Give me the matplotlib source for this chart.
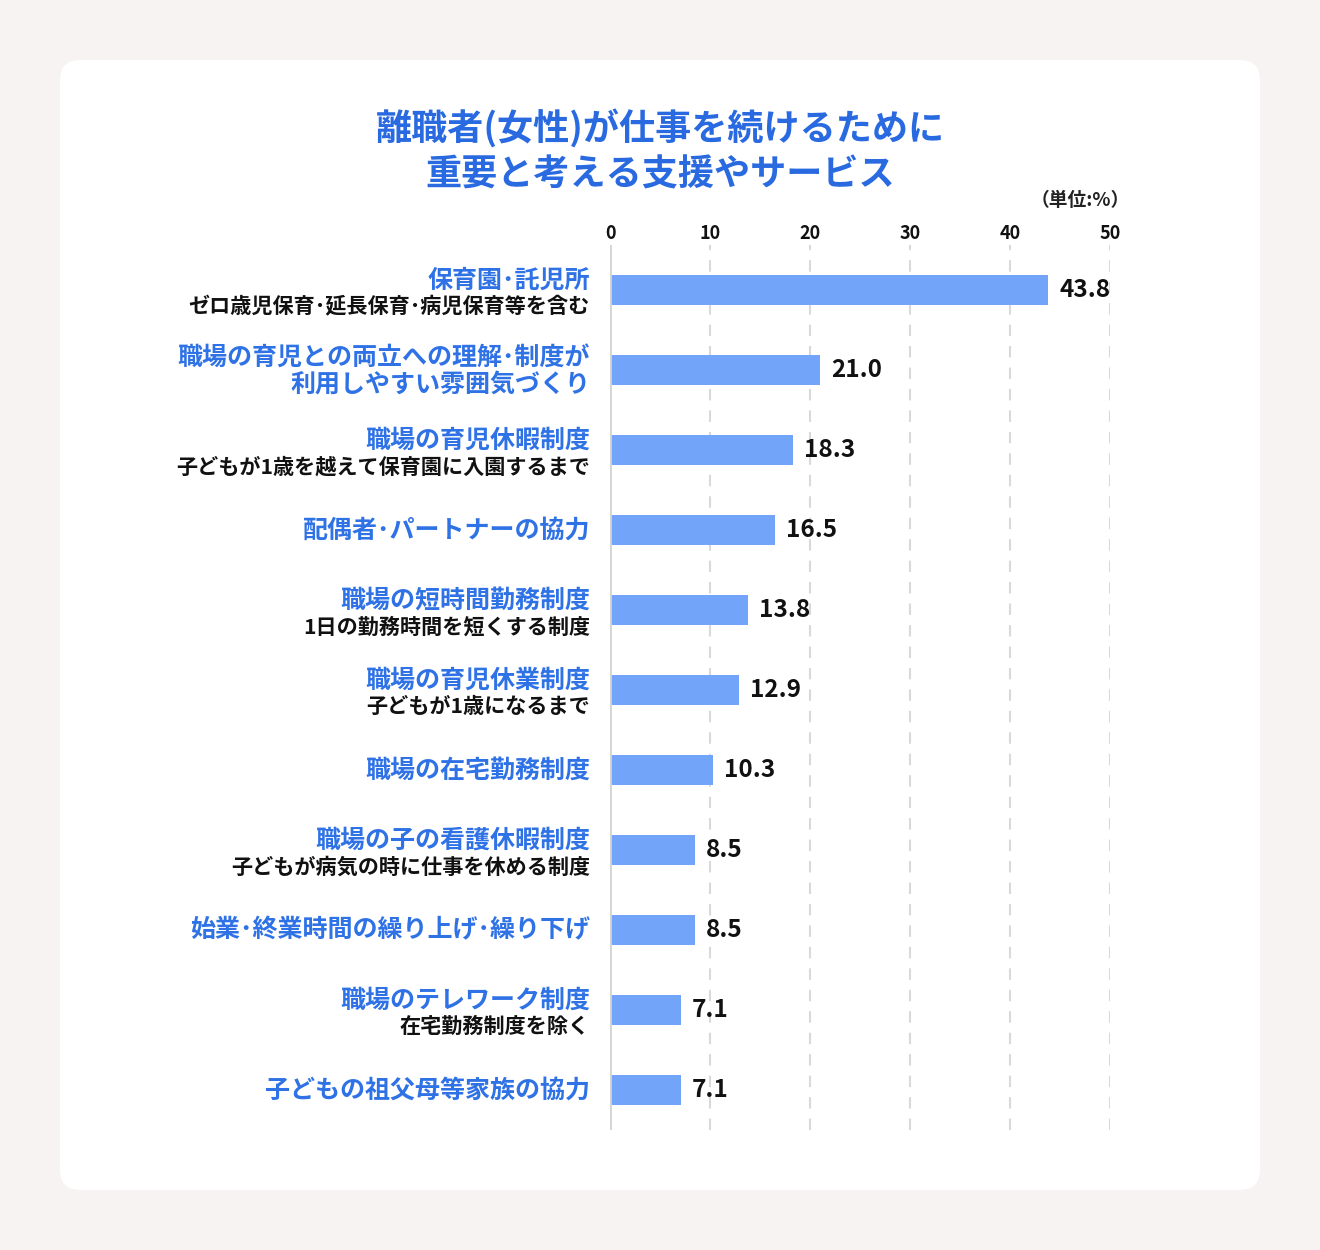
import matplotlib
matplotlib.use("Agg")
import matplotlib.pyplot as plt
from matplotlib.patches import FancyBboxPatch

plt.rcParams["font.family"] = ["Noto Sans CJK JP", "DejaVu Sans"]

# --- data -------------------------------------------------------------
titles = [
    "保育園･託児所",
    "職場の育児との両立への理解･制度が\n利用しやすい雰囲気づくり",
    "職場の育児休暇制度",
    "配偶者･パートナーの協力",
    "職場の短時間勤務制度",
    "職場の育児休業制度",
    "職場の在宅勤務制度",
    "職場の子の看護休暇制度",
    "始業･終業時間の繰り上げ･繰り下げ",
    "職場のテレワーク制度",
    "子どもの祖父母等家族の協力",
]
notes = [
    "ゼロ歳児保育･延長保育･病児保育等を含む",
    "",
    "子どもが1歳を越えて保育園に入園するまで",
    "",
    "1日の勤務時間を短くする制度",
    "子どもが1歳になるまで",
    "",
    "子どもが病気の時に仕事を休める制度",
    "",
    "在宅勤務制度を除く",
    "",
]
values = [43.8, 21.0, 18.3, 16.5, 13.8, 12.9, 10.3, 8.5, 8.5, 7.1, 7.1]
ticks = [0, 10, 20, 30, 40, 50]

BLUE_TITLE = "#2a6ae0"
BLUE_LABEL = "#2f72e6"
BAR = "#72a4fa"

W, H = 1320, 1250
fig = plt.figure(figsize=(W / 100, H / 100), dpi=100)
fig.patch.set_facecolor("#f7f3f3")

# white rounded card
card = FancyBboxPatch((60 / W, 60 / H), 1200 / W, 1130 / H,
                      boxstyle="round,pad=0,rounding_size=0.016",
                      transform=fig.transFigure, facecolor="white",
                      edgecolor="none", zorder=-5)
fig.patches.append(card)

fig.text(660 / W, 1 - 129 / H, "離職者(女性)が仕事を続けるために",
         ha="center", va="center", fontsize=26, fontweight="bold",
         color=BLUE_TITLE)
fig.text(660 / W, 1 - 175 / H, "重要と考える支援やサービス",
         ha="center", va="center", fontsize=26, fontweight="bold",
         color=BLUE_TITLE)
fig.text(1130 / W, 1 - 200 / H, "（単位:%）", ha="right", va="center",
         fontsize=13.5, fontweight="bold", color="#222222")

ax = fig.add_axes([610 / W, 120 / H, 500 / W, 885 / H], zorder=2)
ax.set_facecolor("none")
n = len(values)
ypos = list(range(n))
ax.set_xlim(0, 50)
ax.set_ylim(n - 0.5, -0.5625)

for t in ticks[1:]:
    ax.axvline(t, color="#d9d9d9", lw=1.5, dashes=(5.5, 4.8), zorder=0)
ax.axvline(0, color="#d4d4d4", lw=2, zorder=3)

ax.barh(ypos, values, height=0.375, color=BAR, zorder=2)

for y, v in zip(ypos, values):
    ax.text(v + 1.1, y, f"{v:.1f}", ha="left", va="center", fontsize=17.5,
            fontweight="bold", color="#111111", zorder=4)

for y, t, note in zip(ypos, titles, notes):
    if note:
        ax.text(-2, y - 0.12, t, ha="right", va="center", fontsize=18,
                fontweight="bold", color=BLUE_LABEL, clip_on=False)
        ax.text(-2, y + 0.21, note, ha="right", va="center", fontsize=15.2,
                fontweight="bold", color="#111111", clip_on=False)
    else:
        ax.text(-2, y + 0.01, t, ha="right", va="center", fontsize=18,
                fontweight="bold", color=BLUE_LABEL, linespacing=1.15,
                clip_on=False)

ax.xaxis.tick_top()
ax.set_xticks(ticks)
ax.set_xticklabels([str(t) for t in ticks], fontsize=13, fontweight="bold",
                   color="#111111")
ax.tick_params(axis="x", length=0, pad=1.5)
ax.set_yticks([])
for s in ax.spines.values():
    s.set_visible(False)

fig.savefig("out.png", dpi=100, facecolor=fig.get_facecolor())
